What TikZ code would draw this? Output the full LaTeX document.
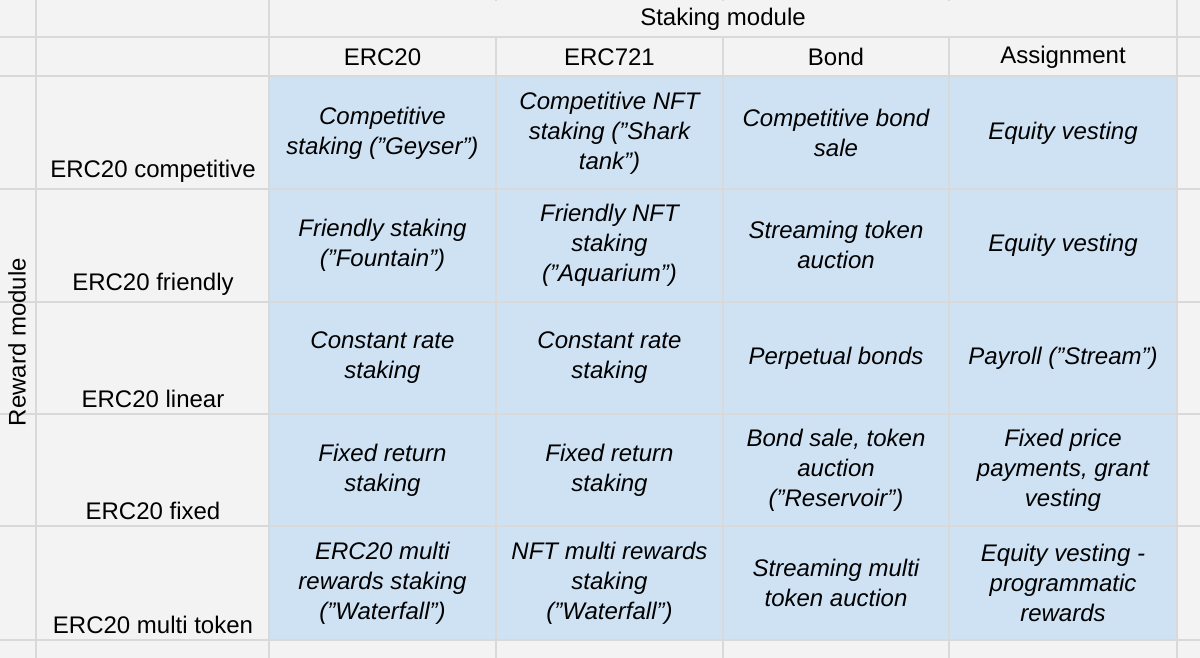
\documentclass[tikz,border=0pt]{standalone}
\usepackage{fontspec}
\setmainfont{Liberation Sans}
\definecolor{sheetbg}{HTML}{F3F3F3}
\definecolor{gridgray}{HTML}{D9D9D9}
\definecolor{cellblue}{HTML}{CFE2F3}
\newcommand\qt[1]{\symbol{34}#1\symbol{34}}
\tikzset{
  cell/.style={align=center, font=\fontsize{24}{30}\selectfont\itshape},
  colhead/.style={font=\fontsize{24}{28}\selectfont},
  rowhead/.style={anchor=south, font=\fontsize{24}{28}\selectfont}
}
\begin{document}
\begin{tikzpicture}[x=1pt,y=-1pt]
\useasboundingbox (0,0) rectangle (1200,658);
\fill[sheetbg] (0,0) rectangle (1200,658);
\fill[cellblue] (269,76) rectangle (1177,640);
% grid
\foreach \x in {36,269,496,723,949,1177} \draw[gridgray,line width=1.5pt] (\x,0) -- (\x,658);
\foreach \y in {37,76,189,302,414,526,640} \draw[gridgray,line width=1.5pt] (0,\y) -- (1200,\y);
\fill[sheetbg] (270,1) rectangle (1176,36.2);
% headers
\node[colhead] (staking) at (723,19) {Staking module};
\node[colhead] (c1) at (382.5,57) {ERC20};
\node[colhead] (c2) at (609.5,57) {ERC721};
\node[colhead] (c3) at (836,57) {Bond};
\node[colhead] (c4) at (1063,57) {Assignment};
\node[colhead, rotate=90] (reward) at (17,342) {Reward module};
\node[rowhead] (r1) at (153,186) {ERC20 competitive};
\node[rowhead] (r2) at (153,299) {ERC20 friendly};
\node[rowhead] (r3) at (153,411) {ERC20 linear};
\node[rowhead] (r4) at (153,523) {ERC20 fixed};
\node[rowhead] (r5) at (153,637) {ERC20 multi token};
% cells
\node[cell] (a1) at (382.5,133) {Competitive\\staking (\qt{Geyser})};
\node[cell] (b1) at (609.5,133) {Competitive NFT\\staking (\qt{Shark\\tank})};
\node[cell] (d1) at (836,133) {Competitive bond\\sale};
\node[cell] (e1) at (1063,133) {Equity vesting};
\node[cell] (a2) at (382.5,245) {Friendly staking\\(\qt{Fountain})};
\node[cell] (b2) at (609.5,245) {Friendly NFT\\staking\\(\qt{Aquarium})};
\node[cell] (d2) at (836,245) {Streaming token\\auction};
\node[cell] (e2) at (1063,245) {Equity vesting};
\node[cell] (a3) at (382.5,358) {Constant rate\\staking};
\node[cell] (b3) at (609.5,358) {Constant rate\\staking};
\node[cell] (d3) at (836,358) {Perpetual bonds};
\node[cell] (e3) at (1063,358) {Payroll (\qt{Stream})};
\node[cell] (a4) at (382.5,470) {Fixed return\\staking};
\node[cell] (b4) at (609.5,470) {Fixed return\\staking};
\node[cell] (d4) at (836,470) {Bond sale, token\\auction\\(\qt{Reservoir})};
\node[cell] (e4) at (1063,470) {Fixed price\\payments, grant\\vesting};
\node[cell] (a5) at (382.5,583) {ERC20 multi\\rewards staking\\(\qt{Waterfall})};
\node[cell] (b5) at (609.5,583) {NFT multi rewards\\staking\\(\qt{Waterfall})};
\node[cell] (d5) at (836,583) {Streaming multi\\token auction};
\node[cell] (e5) at (1063,583) {Equity vesting -\\programmatic\\rewards};
\end{tikzpicture}
\end{document}
